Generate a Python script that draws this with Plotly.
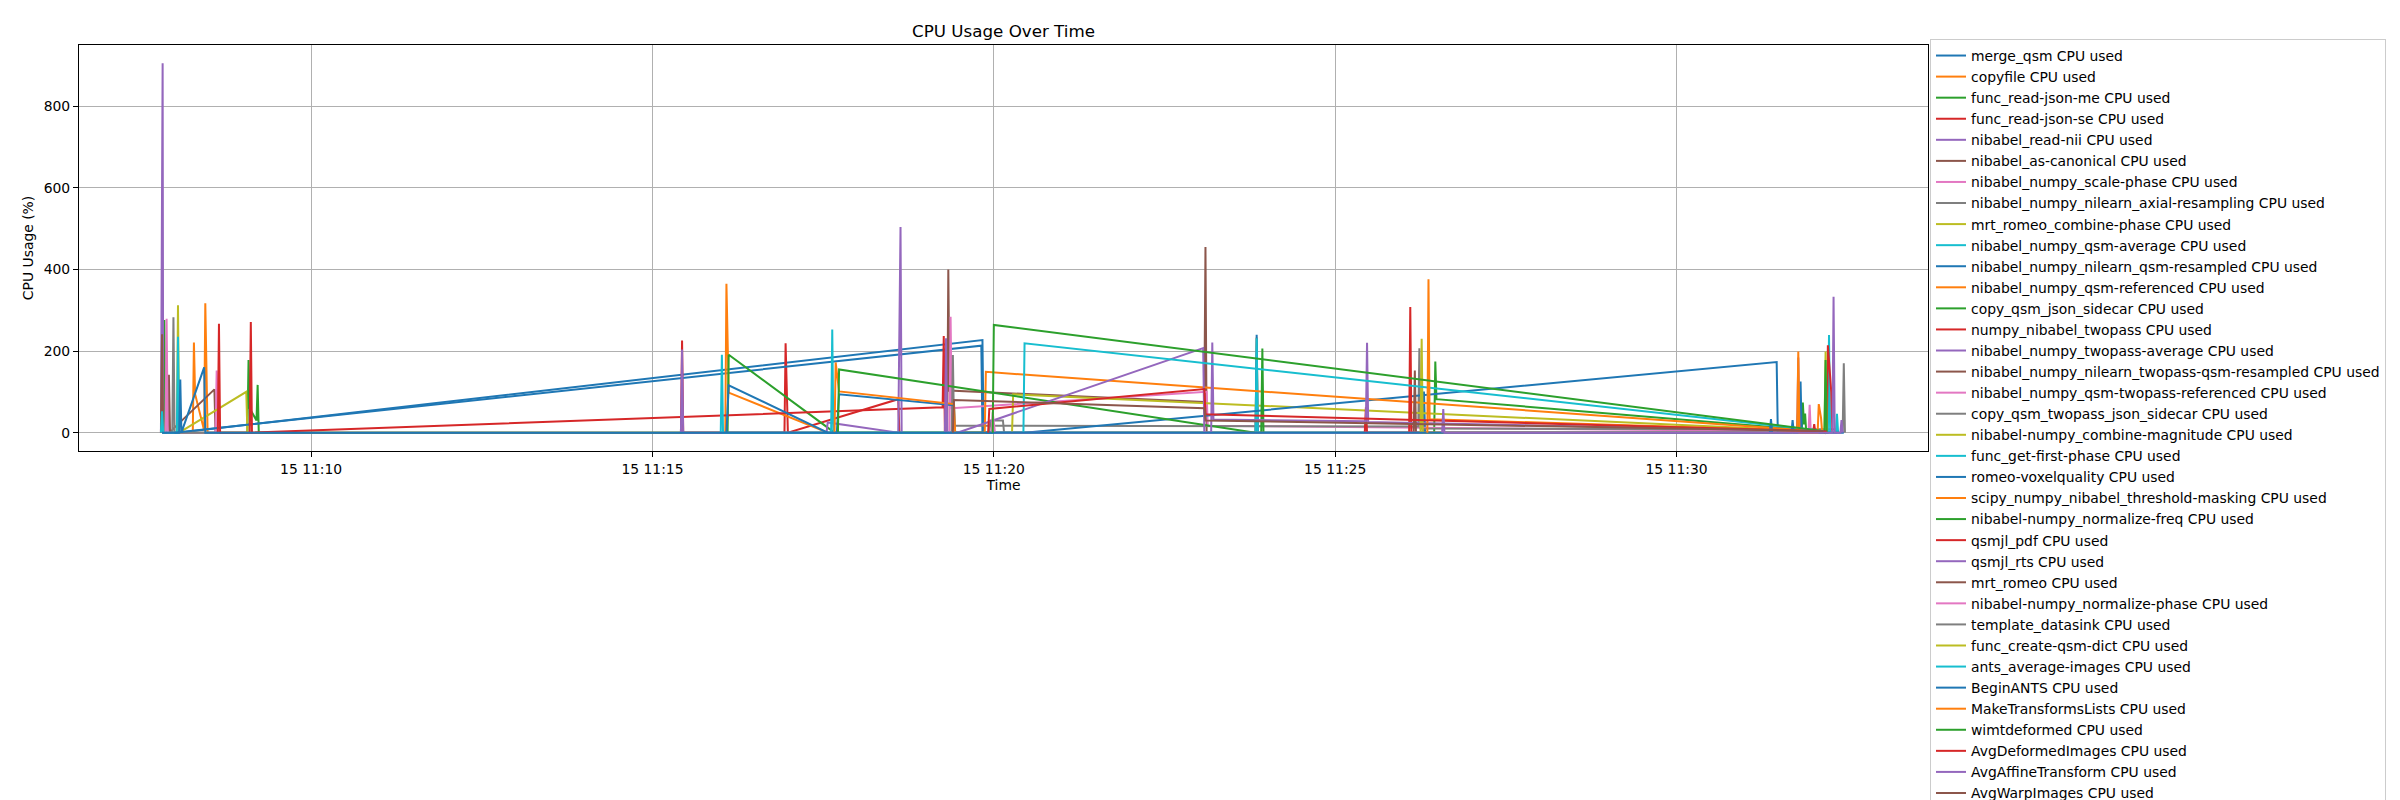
import plotly.graph_objects as go

DATE = "2024-03-15 "

series_names = [
    "merge_qsm", "copyfile", "func_read-json-me", "func_read-json-se", "nibabel_read-nii",
    "nibabel_as-canonical", "nibabel_numpy_scale-phase", "nibabel_numpy_nilearn_axial-resampling",
    "mrt_romeo_combine-phase", "nibabel_numpy_qsm-average", "nibabel_numpy_nilearn_qsm-resampled",
    "nibabel_numpy_qsm-referenced", "copy_qsm_json_sidecar", "numpy_nibabel_twopass",
    "nibabel_numpy_twopass-average", "nibabel_numpy_nilearn_twopass-qsm-resampled",
    "nibabel_numpy_qsm-twopass-referenced", "copy_qsm_twopass_json_sidecar",
    "nibabel-numpy_combine-magnitude", "func_get-first-phase", "romeo-voxelquality",
    "scipy_numpy_nibabel_threshold-masking", "nibabel-numpy_normalize-freq", "qsmjl_pdf",
    "qsmjl_rts", "mrt_romeo", "nibabel-numpy_normalize-phase", "template_datasink",
    "func_create-qsm-dict", "ants_average-images", "BeginANTS", "MakeTransformsLists",
    "wimtdeformed", "AvgDeformedImages", "AvgAffineTransform", "AvgWarpImages",
]

# per-series sample times (HH:MM:SS) and CPU values (%)
T00 = ["11:08:03", "11:19:50", "11:19:51"]
V00 = [0, 227, 0]
T01 = ["11:08:16", "11:08:17", "11:08:18", "11:08:26", "11:08:27", "11:08:28", "11:08:29", "11:23:50", "11:23:51", "11:23:52"]
V01 = [0, 221, 95, 5, 317, 90, 0, 0, 233, 0]
T02 = ["11:07:50", "11:07:51", "11:07:52", "11:09:04", "11:09:05", "11:09:06", "11:09:12", "11:09:13", "11:09:14", "11:26:27", "11:26:28", "11:26:29", "11:32:06", "11:32:07"]
V02 = [0, 276, 0, 0, 178, 60, 30, 117, 0, 0, 174, 82, 4, 0]
T03 = ["11:15:25", "11:15:26", "11:15:27", "11:16:56", "11:16:57", "11:16:59", "11:18:36", "11:18:37"]
V03 = [0, 226, 0, 0, 219, 0, 82, 0]
T04 = ["11:07:48", "11:07:49", "11:07:49.5", "11:07:50"]
V04 = [0, 636, 905, 0]
T05 = ["11:07:48", "11:07:49", "11:07:50", "11:07:54", "11:07:55", "11:07:56", "11:07:59", "11:08:35", "11:08:36"]
V05 = [0, 241, 0, 0, 142, 0, 10, 106, 0]
T06 = ["11:07:52", "11:07:53", "11:07:54", "11:08:36", "11:08:37", "11:08:38", "11:08:39"]
V06 = [0, 279, 0, 0, 152, 70, 0]
T07 = ["11:07:58", "11:07:59", "11:08:00", "11:19:56", "11:19:57", "11:20:08", "11:20:09"]
V07 = [0, 283, 0, 0, 30, 30, 0]
T08 = ["11:08:02", "11:08:03", "11:08:04", "11:09:03", "11:09:04"]
V08 = [0, 312, 0, 100, 0]
T09 = ["11:07:48", "11:07:49", "11:07:50", "11:08:02", "11:08:03", "11:08:04"]
V09 = [0, 52, 0, 0, 235, 0]
T10 = ["11:08:00", "11:19:49", "11:19:50", "11:23:50", "11:23:51", "11:23:52", "11:26:17", "11:26:18", "11:26:19"]
V10 = [0, 213, 0, 0, 240, 0, 0, 101, 0]
T11 = ["11:16:04", "11:16:05", "11:16:07", "11:17:34"]
V11 = [0, 365, 98, 0]
T12 = ["11:16:06", "11:16:07", "11:17:40", "11:31:50", "11:31:51", "11:31:52", "11:31:53", "11:31:54"]
V12 = [0, 191, 0, 0, 74, 20, 47, 0]
T13 = ["11:08:38", "11:08:39", "11:08:40", "11:09:06", "11:09:07", "11:09:08", "11:19:15", "11:19:16", "11:19:17"]
V13 = [0, 267, 0, 0, 271, 0, 62, 237, 0]
T14 = ["11:15:25", "11:15:26", "11:15:27", "11:17:33", "11:17:34", "11:18:36", "11:18:38", "11:18:39"]
V14 = [0, 204, 0, 0, 25, 0, 504, 0]
T15 = ["11:19:19", "11:19:20", "11:19:21", "11:23:05", "11:23:06", "11:23:07"]
V15 = [0, 400, 103, 75, 455, 0]
T16 = ["11:19:21", "11:19:22", "11:19:23", "11:23:07", "11:23:08", "11:32:00", "11:32:01"]
V16 = [0, 284, 60, 100, 17, 3, 0]
T17 = ["11:19:23", "11:19:24", "11:19:25", "11:26:13", "11:26:14", "11:26:15", "11:32:20", "11:32:21"]
V17 = [0, 190, 17, 15, 207, 10, 8, 0]
T18 = ["11:20:16", "11:20:17", "11:32:06", "11:32:07"]
V18 = [0, 94, 3, 0]
T19 = ["11:16:00", "11:16:01", "11:16:02", "11:17:37", "11:17:38", "11:17:39", "11:23:50", "11:23:51", "11:23:52", "11:32:13", "11:32:14", "11:32:15"]
V19 = [0, 191, 0, 0, 253, 0, 0, 231, 0, 0, 239, 0]
T20 = ["11:16:05", "11:16:07", "11:17:34", "11:17:42", "11:17:44", "11:19:25", "11:19:26", "11:20:27", "11:31:28", "11:31:29", "11:31:48", "11:31:49", "11:31:50"]
V20 = [0, 116, 0, 0, 94, 67, 0, 0, 173, 0, 0, 125, 0]
T21 = ["11:17:40", "11:17:41", "11:17:44", "11:19:25", "11:19:26", "11:19:52", "11:19:53", "11:32:07"]
V21 = [0, 172, 101, 70, 0, 0, 149, 3]
T22 = ["11:17:43", "11:17:44", "11:23:50", "11:23:55", "11:23:56", "11:23:57"]
V22 = [0, 155, 0, 0, 206, 0]
T23 = ["11:25:26", "11:25:27", "11:25:28", "11:26:05", "11:26:06", "11:26:07", "11:32:00", "11:32:01", "11:32:02", "11:32:12", "11:32:13", "11:32:16", "11:32:17"]
V23 = [0, 62, 0, 0, 308, 0, 0, 21, 0, 0, 214, 100, 0]
T24 = ["11:19:17", "11:19:18", "11:19:19", "11:19:28", "11:23:04", "11:23:05", "11:23:11", "11:23:12", "11:23:13", "11:25:27", "11:25:28", "11:25:29", "11:31:46", "11:31:47", "11:31:48"]
V24 = [0, 231, 0, 0, 207, 0, 0, 221, 32, 28, 220, 26, 5, 184, 0]
T25 = ["11:26:09", "11:26:10", "11:26:11", "11:31:46", "11:31:47", "11:31:48"]
V25 = [0, 152, 0, 0, 66, 0]
T26 = ["11:19:58", "11:19:59", "11:20:01", "11:31:56", "11:31:57", "11:31:58"]
V26 = [0, 50, 0, 0, 68, 0]
T27 = ["11:32:26", "11:32:27", "11:32:28"]
V27 = [0, 170, 0]
T28 = ["11:26:15", "11:26:16", "11:26:17", "11:32:10", "11:32:11", "11:32:12"]
V28 = [0, 230, 0, 0, 199, 0]
T29 = ["11:20:26", "11:20:27", "11:32:06", "11:32:20", "11:32:21", "11:32:22"]
V29 = [0, 219, 5, 0, 46, 0]
T30 = ["11:07:49", "11:08:04", "11:08:05", "11:08:06", "11:08:26", "11:08:27", "11:31:22", "11:31:23", "11:31:24", "11:31:41", "11:31:42", "11:31:43", "11:32:27"]
V30 = [0, 0, 130, 0, 160, 0, 0, 33, 0, 0, 31, 0, 0]
T31 = ["11:26:21", "11:26:22", "11:26:23", "11:31:46", "11:31:47", "11:31:48", "11:32:04", "11:32:05", "11:32:07", "11:32:08"]
V31 = [0, 376, 33, 5, 199, 0, 0, 70, 36, 0]
T32 = ["11:19:59", "11:20:00", "11:32:06", "11:32:10", "11:32:11", "11:32:12"]
V32 = [0, 264, 5, 0, 178, 0]
T33 = ["11:19:55", "11:19:56", "11:23:05", "11:23:06", "11:32:12"]
V33 = [0, 58, 107, 45, 3]
T34 = ["11:26:34", "11:26:35", "11:26:36", "11:32:17", "11:32:18", "11:32:19", "11:32:24", "11:32:25", "11:32:26"]
V34 = [0, 58, 0, 0, 333, 0, 0, 31, 0]
T35 = ["11:19:24", "11:19:25", "11:23:05", "11:23:06", "11:32:09"]
V35 = [0, 80, 60, 30, 4]

x_tick_times = ["11:10", "11:15", "11:20", "11:25", "11:30"]
y_ticks = [0, 200, 400, 600, 800]

all_times = [T00, T01, T02, T03, T04, T05, T06, T07, T08, T09, T10, T11, T12, T13, T14, T15, T16, T17,
             T18, T19, T20, T21, T22, T23, T24, T25, T26, T27, T28, T29, T30, T31, T32, T33, T34, T35]
all_vals = [V00, V01, V02, V03, V04, V05, V06, V07, V08, V09, V10, V11, V12, V13, V14, V15, V16, V17,
            V18, V19, V20, V21, V22, V23, V24, V25, V26, V27, V28, V29, V30, V31, V32, V33, V34, V35]

TAB10 = ["#1f77b4", "#ff7f0e", "#2ca02c", "#d62728", "#9467bd",
         "#8c564b", "#e377c2", "#7f7f7f", "#bcbd22", "#17becf"]

FONT = "DejaVu Sans"
fig = go.Figure()
for i, (name, ts, vs) in enumerate(zip(series_names, all_times, all_vals)):
    fig.add_trace(go.Scatter(
        x=[DATE + t for t in ts], y=vs, mode="lines",
        name=f"{name} CPU used",
        line=dict(color=TAB10[i % 10], width=2),
    ))

L, R, T, B = 71, 1920, 37, 443
fig.update_layout(
    width=2400, height=800,
    margin=dict(l=L, r=2400 - R, t=T, b=800 - B, autoexpand=False),
    paper_bgcolor="white", plot_bgcolor="white",
    font=dict(family=FONT, size=13.9, color="black"),
    title=dict(text="CPU Usage Over Time", x=(L + R) / 2 / 2400, xanchor="center",
               xref="container", y=1 - 23 / 800, yref="container", yanchor="middle",
               font=dict(size=16.7, family=FONT, color="black")),
    showlegend=True,
    legend=dict(x=(1922 - L) / (R - L), xanchor="left", y=(B - 31) / (B - T), yanchor="top",
                maxheight=2000,
                bordercolor="#cccccc", borderwidth=1, bgcolor="rgba(255,255,255,0.8)",
                font=dict(size=13.9, family=FONT, color="black"), tracegroupgap=0),
)
fig.update_xaxes(
    range=[DATE + "11:06:36", DATE + "11:33:41"],
    tickvals=[DATE + t for t in x_tick_times], tickformat="%d %H:%M",
    showgrid=True, gridcolor="#b0b0b0", gridwidth=1.1,
    showline=True, linecolor="black", linewidth=1.1, mirror=True,
    ticks="outside", ticklen=5, tickwidth=1.1, tickcolor="black",
    zeroline=False,
    title=dict(text="Time", standoff=4, font=dict(size=13.9, family=FONT)),
    tickfont=dict(size=13.9, family=FONT),
)
fig.update_yaxes(
    range=[-45, 950], tickvals=y_ticks,
    showgrid=True, gridcolor="#b0b0b0", gridwidth=1.1,
    showline=True, linecolor="black", linewidth=1.1, mirror=True,
    ticks="outside", ticklen=5, tickwidth=1.1, tickcolor="black",
    zeroline=False,
    title=dict(text="CPU Usage (%)", standoff=6, font=dict(size=13.9, family=FONT)),
    tickfont=dict(size=13.9, family=FONT),
)

fig.write_html("out.html")
